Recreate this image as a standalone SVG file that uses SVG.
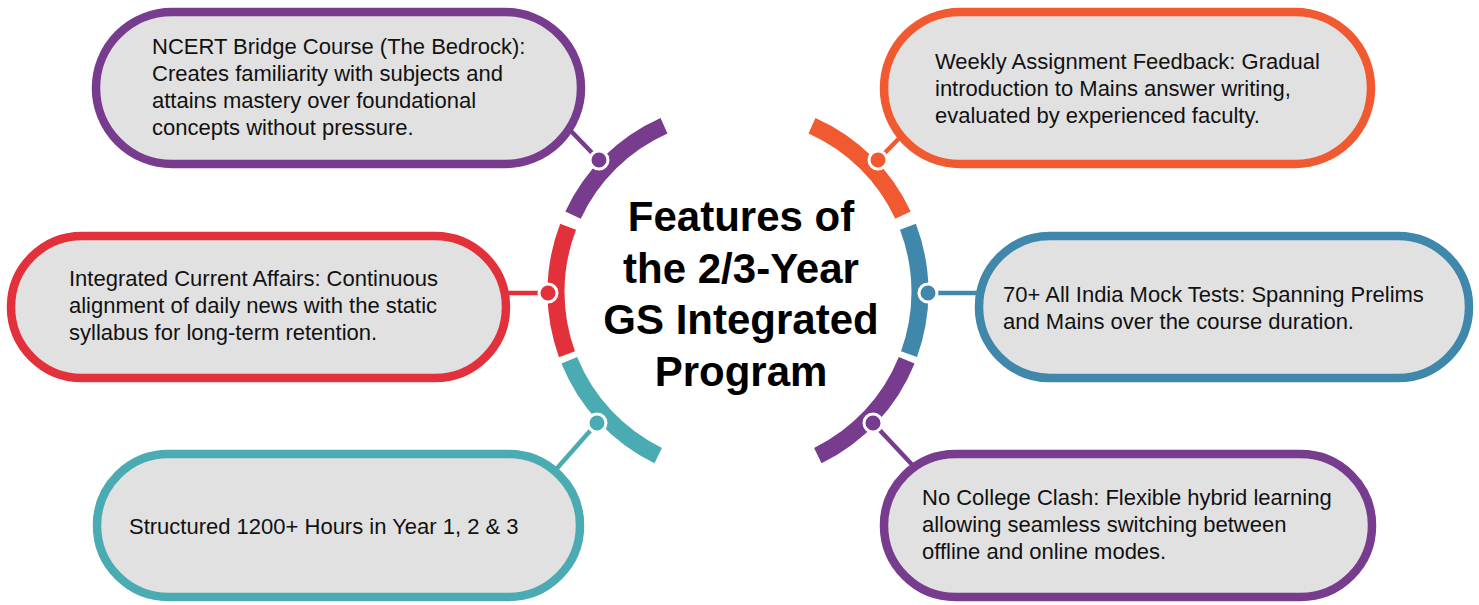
<svg xmlns="http://www.w3.org/2000/svg" width="1479" height="605" viewBox="0 0 1479 605">
<style>
.node{fill:#e1e1e1;stroke-width:8.5}
.t{font-family:"Liberation Sans",Arial,sans-serif;font-size:22px;fill:#111}
.title{font-family:"Liberation Sans",Arial,sans-serif;font-size:42px;font-weight:bold;fill:#000;text-anchor:middle}
.arc{fill:none;stroke-width:17}
.dot{stroke:#fff;stroke-width:3}
.con{stroke-width:4.5}
.purple{stroke:#773c8d}.red{stroke:#e3313b}.teal{stroke:#4aabb2}.orange{stroke:#f15a31}.blue{stroke:#4088ab}
</style>
<rect width="1479" height="605" fill="#fff"/>
<g id="connectors">
<line class="con purple" x1="599" y1="160" x2="568" y2="128"/>
<line class="con red" x1="548" y1="293" x2="500" y2="293"/>
<line class="con teal" x1="597" y1="423" x2="552" y2="474"/>
<line class="con orange" x1="878" y1="160" x2="908" y2="129"/>
<line class="con blue" x1="928" y1="293" x2="984" y2="293"/>
<line class="con purple" x1="873" y1="423" x2="919" y2="472"/>
</g>
<g id="node-ncert">
<rect class="node purple" x="96" y="12" width="485" height="152" rx="76" ry="76"/>
<text class="t"><tspan x="152" y="54">NCERT Bridge Course (The Bedrock):</tspan><tspan x="152" y="81">Creates familiarity with subjects and</tspan><tspan x="152" y="108">attains mastery over foundational</tspan><tspan x="152" y="135">concepts without pressure.</tspan></text>
</g>
<g id="node-current-affairs">
<rect class="node red" x="11" y="236" width="495" height="142" rx="71" ry="71"/>
<text class="t"><tspan x="69" y="286">Integrated Current Affairs: Continuous</tspan><tspan x="69" y="313">alignment of daily news with the static</tspan><tspan x="69" y="340">syllabus for long-term retention.</tspan></text>
</g>
<g id="node-hours">
<rect class="node teal" x="97" y="454" width="483" height="143" rx="71.5" ry="71.5"/>
<text class="t" x="129" y="534">Structured 1200+ Hours in Year 1, 2 &amp; 3</text>
</g>
<g id="node-weekly">
<rect class="node orange" x="884" y="12" width="487" height="152" rx="76" ry="76"/>
<text class="t"><tspan x="935" y="69">Weekly Assignment Feedback: Gradual</tspan><tspan x="935" y="96">introduction to Mains answer writing,</tspan><tspan x="935" y="123">evaluated by experienced faculty.</tspan></text>
</g>
<g id="node-mock-tests">
<rect class="node blue" x="979" y="236" width="490" height="142" rx="71" ry="71"/>
<text class="t"><tspan x="1003" y="302">70+ All India Mock Tests: Spanning Prelims</tspan><tspan x="1003" y="329">and Mains over the course duration.</tspan></text>
</g>
<g id="node-college">
<rect class="node purple" x="884" y="454" width="488" height="143" rx="71.5" ry="71.5"/>
<text class="t"><tspan x="922" y="505">No College Clash: Flexible hybrid learning</tspan><tspan x="922" y="532">allowing seamless switching between</tspan><tspan x="922" y="559">offline and online modes.</tspan></text>
</g>
<g id="hub">
<path class="arc teal" d="M658.2 455.6 A182 182 0 0 1 569.3 360.2"/>
<path class="arc red" d="M566.97 354.24 A182 182 0 0 1 568.09 226.77"/>
<path class="arc purple" d="M573.05 215.1 A182 182 0 0 1 664 125.7"/>
<path class="arc orange" d="M812 125.7 A182 182 0 0 1 902.95 215.1"/>
<path class="arc blue" d="M907.9 226.8 A182 182 0 0 1 909 354.2"/>
<path class="arc purple" d="M906.7 360.2 A182 182 0 0 1 817.8 455.6"/>
<circle class="dot" cx="599" cy="160" r="9" fill="#773c8d"/>
<circle class="dot" cx="548" cy="293" r="9" fill="#e3313b"/>
<circle class="dot" cx="597" cy="423" r="9" fill="#4aabb2"/>
<circle class="dot" cx="878" cy="160" r="9" fill="#f15a31"/>
<circle class="dot" cx="928" cy="293" r="9" fill="#4088ab"/>
<circle class="dot" cx="873" cy="423" r="9" fill="#773c8d"/>
<text class="title"><tspan x="741" y="231">Features of</tspan><tspan x="741" y="283">the 2/3-Year</tspan><tspan x="741" y="334">GS Integrated</tspan><tspan x="741" y="386">Program</tspan></text>
</g>
</svg>
